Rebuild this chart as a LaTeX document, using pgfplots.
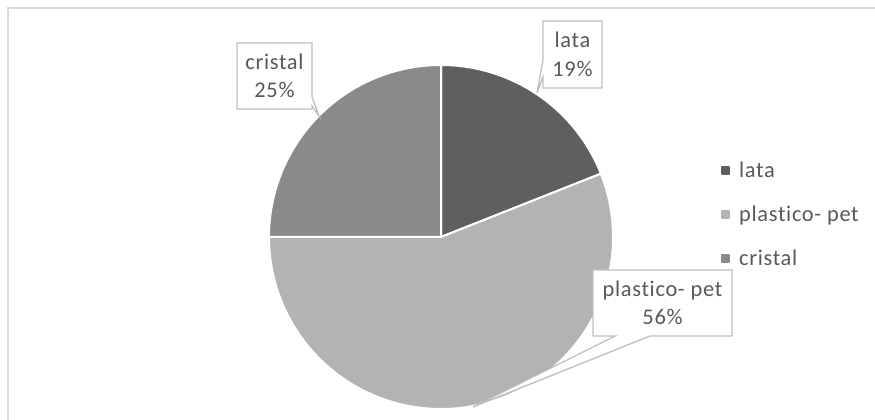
\documentclass[border=0pt]{standalone}
\usepackage{fontspec}
\setmainfont{Carlito}[LetterSpace=3, Ligatures=CommonOff]
\usepackage{pgfplots}
\usepackage{pgfplotstable}
\pgfplotsset{compat=1.18}

\definecolor{clata}{HTML}{5F5F5F}
\definecolor{cplast}{HTML}{B3B3B3}
\definecolor{ccrist}{HTML}{8A8A8A}
\definecolor{txt}{HTML}{595959}
\definecolor{callout}{HTML}{BFBFBF}
\definecolor{frame}{HTML}{D9D9D9}

% share of each material (percent)
\pgfplotstableread{
value
19
56
25
}\piedata

\pgfplotstablegetelem{0}{value}\of\piedata \pgfmathsetmacro\va{\pgfplotsretval}
\pgfplotstablegetelem{1}{value}\of\piedata \pgfmathsetmacro\vb{\pgfplotsretval}
\pgfplotstablegetelem{2}{value}\of\piedata \pgfmathsetmacro\vc{\pgfplotsretval}
% slice boundaries, clockwise from twelve o'clock
\pgfmathsetmacro\aA{90}
\pgfmathsetmacro\aB{\aA-3.6*\va}
\pgfmathsetmacro\aC{\aB-3.6*\vb}
\pgfmathsetmacro\aD{\aC-3.6*\vc}

\newcommand\lblfont{\fontsize{22.5}{28.5}\selectfont}

% one pie slice between two angles, centre (441,183), radius 172
\newcommand\slice[3]{%
  \addplot[fill=#3, draw=white, line width=2bp, line join=round,
    domain=#1:#2, samples=120, variable=\t,
    legend image code/.code={\fill[#3] (0bp,-3.5bp) rectangle (7.5bp,4bp);}]
    ({441+172*cos(\t)},{183+172*sin(\t)}) -- (axis cs:441,183) -- cycle;
}

\begin{document}
\begin{tikzpicture}
\begin{axis}[
  width=875bp, height=420bp, scale only axis,
  xmin=0, xmax=875, ymin=0, ymax=420,
  hide axis,
  legend style={draw=none, fill=none, at={(axis description cs:0.82,0.626)},
    anchor=north west, font=\lblfont, text=txt, row sep=21bp,
    nodes={inner sep=3bp},
    /tikz/every odd column/.style={column sep=6bp}},
  legend cell align=left,
]
\coordinate (sw) at (rel axis cs:0,0);
\coordinate (ne) at (rel axis cs:1,1);

% chart frame
\draw[frame, line width=1.2bp] (axis cs:8,0) -- (axis cs:8,412) -- (axis cs:875,412);

\slice{\aB}{\aA}{clata}
\addlegendentry{lata}
\slice{\aC}{\aB}{cplast}
\addlegendentry{plastico- pet}
\slice{\aD}{\aC}{ccrist}
\addlegendentry{cristal}

% data callouts
\draw[callout, fill=white, line width=1.3bp, line join=miter]
  (axis cs:237,377) -- (axis cs:312,377) -- (axis cs:312,323) -- (axis cs:319,304)
  -- (axis cs:312,314) -- (axis cs:312,311) -- (axis cs:237,311) -- cycle;
\node[align=center, font=\lblfont, text=txt, inner sep=0pt] at (axis cs:274.5,344) {cristal\\25\%};

\draw[callout, fill=white, line width=1.3bp, line join=miter]
  (axis cs:543,399) -- (axis cs:602,399) -- (axis cs:602,332) -- (axis cs:543,332)
  -- (axis cs:543,343) -- (axis cs:537,327) -- (axis cs:543,360) -- cycle;
\node[align=center, font=\lblfont, text=txt, inner sep=0pt] at (axis cs:572.5,365.5) {lata\\19\%};

\draw[callout, fill=white, line width=1.3bp, line join=miter]
  (axis cs:593,150) -- (axis cs:732,150) -- (axis cs:732,84) -- (axis cs:650,84)
  -- (axis cs:473,13) -- (axis cs:615,84) -- (axis cs:593,84) -- cycle;
\node[align=center, font=\lblfont, text=txt, inner sep=0pt] at (axis cs:662.5,117) {plastico- pet\\56\%};
\end{axis}
\pgfresetboundingbox
\useasboundingbox (sw) rectangle (ne);
\end{tikzpicture}
\end{document}
